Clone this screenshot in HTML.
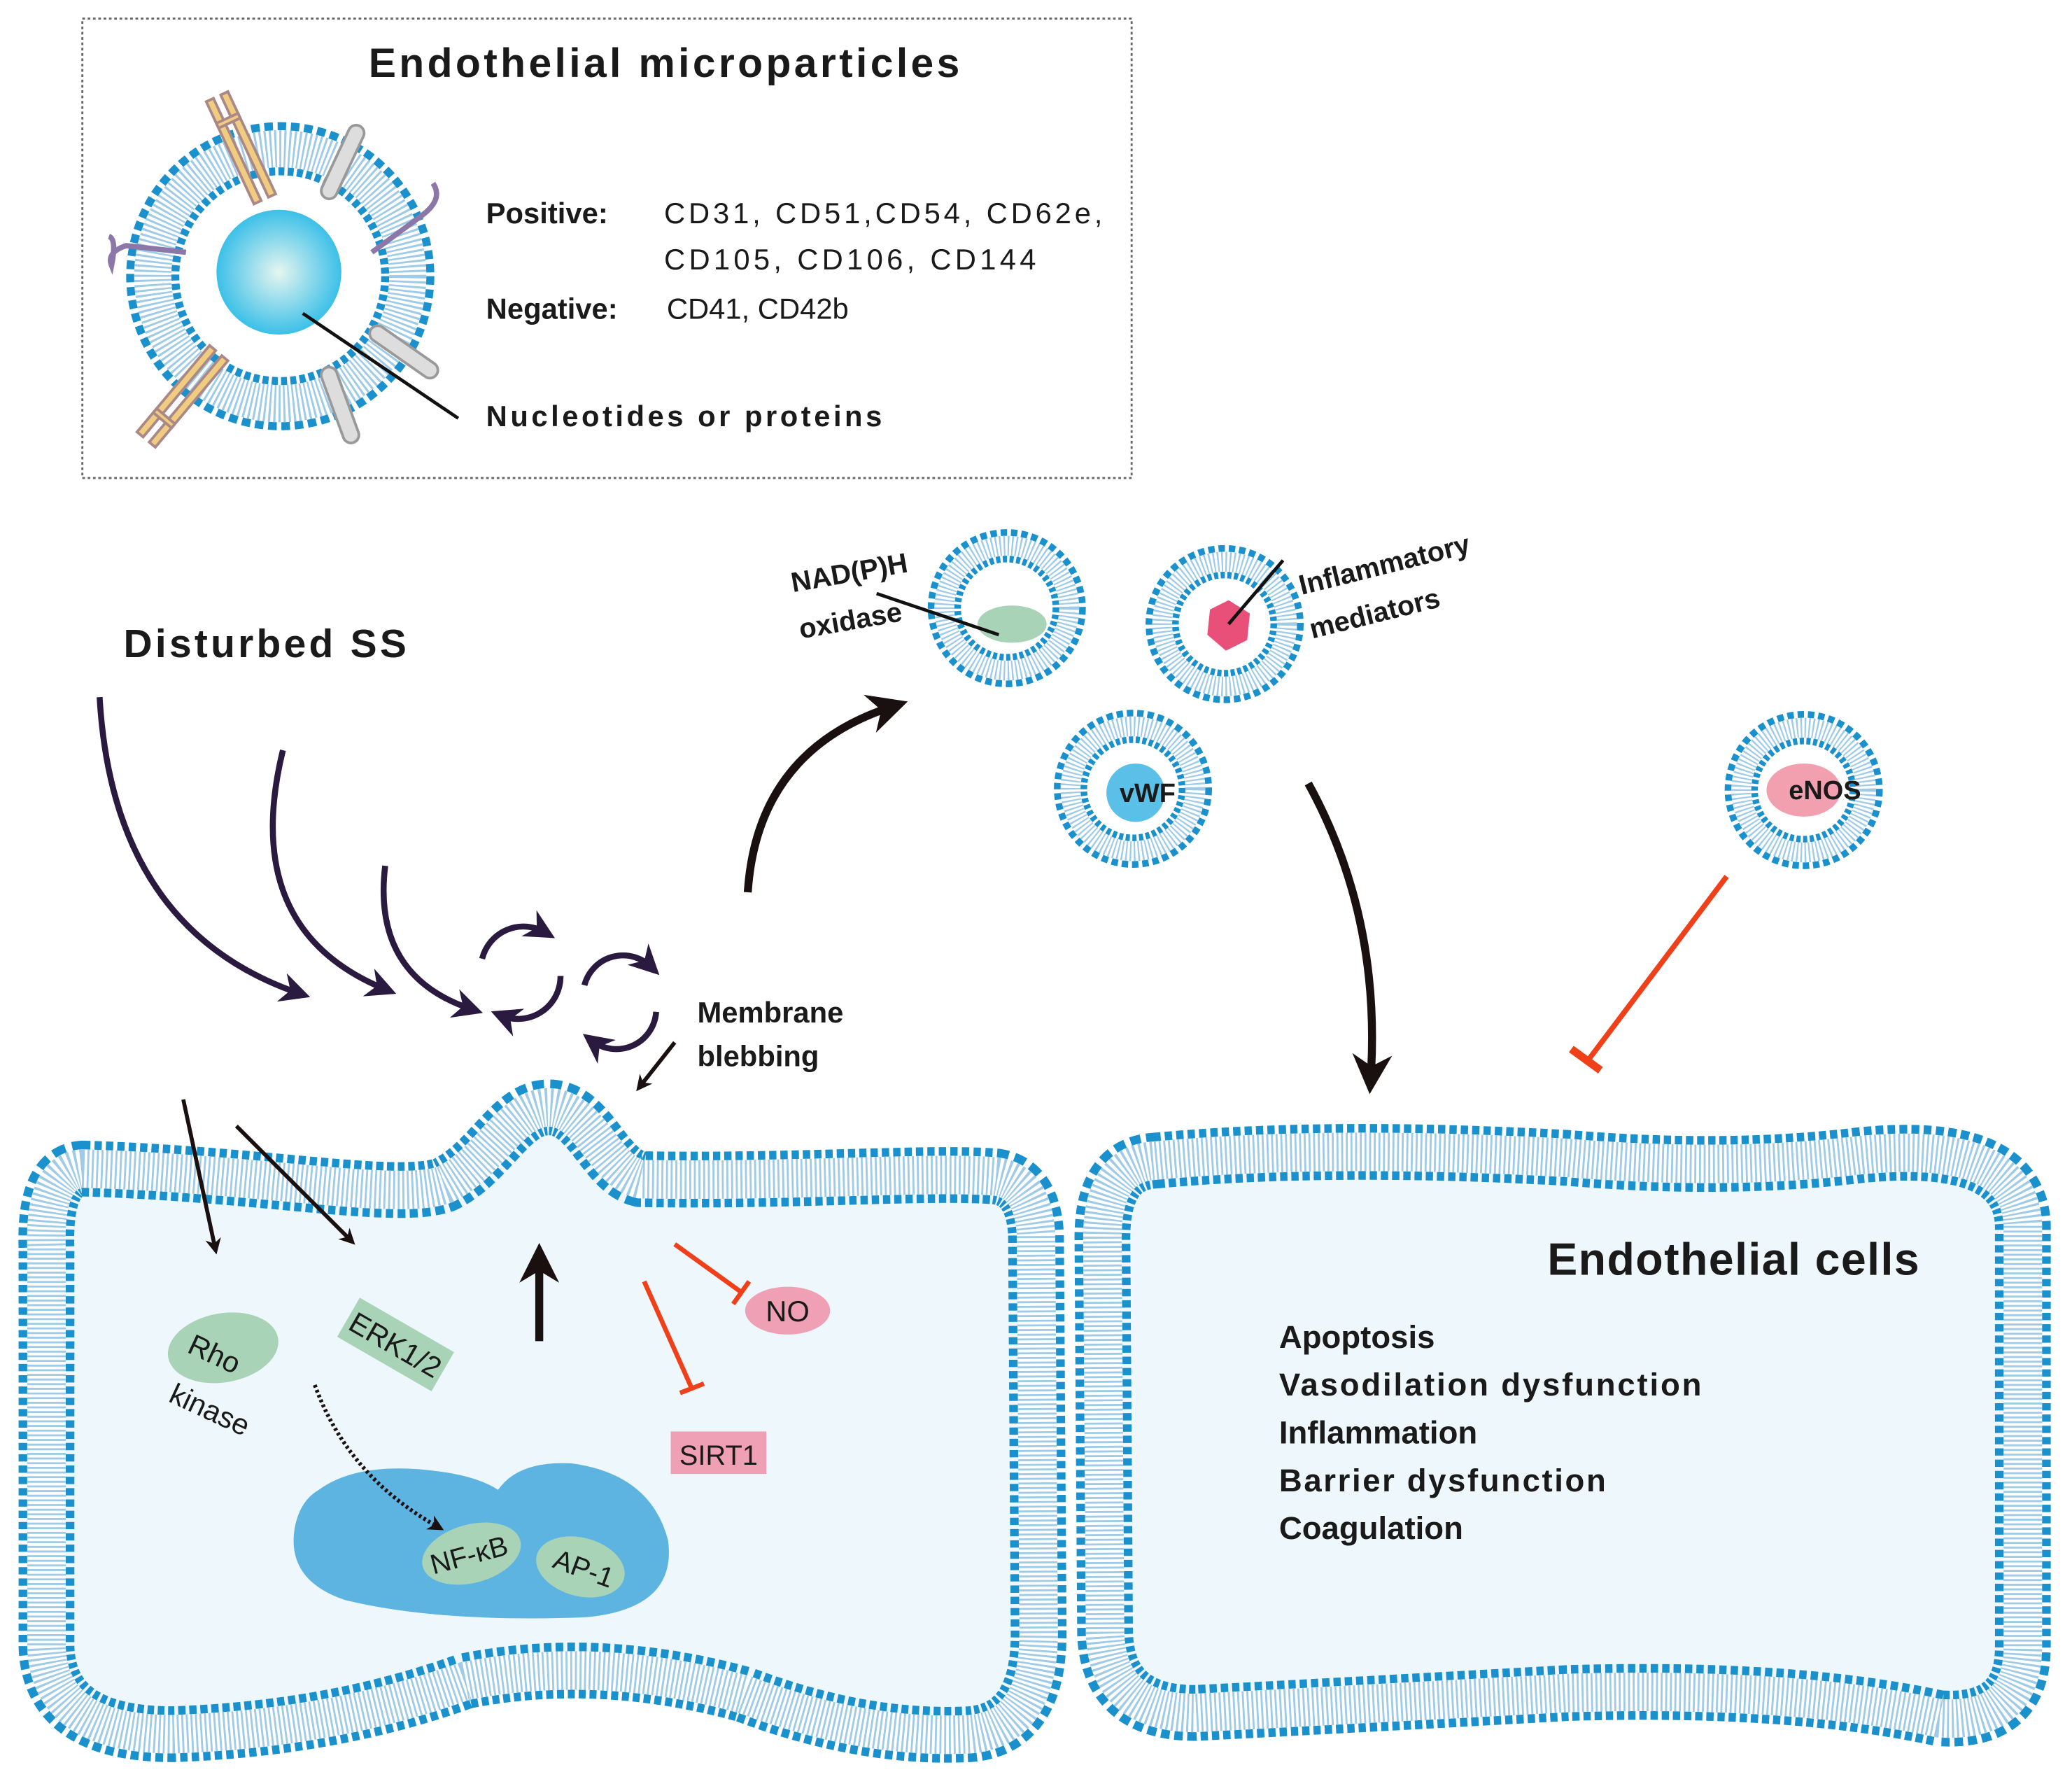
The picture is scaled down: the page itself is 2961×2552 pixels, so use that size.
<!DOCTYPE html>
<html><head><meta charset="utf-8"><style>html,body{margin:0;padding:0;background:#fff}svg{display:block}text{font-family:"Liberation Sans",Arial,sans-serif}</style></head>
<body>
<svg width="2961" height="2552" viewBox="0 0 1560 1345" preserveAspectRatio="none" xmlns="http://www.w3.org/2000/svg">
<defs>
<path id="c1" d="M 62,880 C 200,884 300,905 335,892 C 370,875 385,832 415,834 C 445,836 455,882 482,888 C 600,890 700,882 750,886 Q 778,890 780,930 L 782,1230 Q 782,1302 730,1306 Q 650,1310 560,1276 Q 450,1246 350,1266 Q 250,1302 130,1306 Q 37,1306 35,1240 L 35,940 Q 33,882 62,880 Z"/>
<path id="c2" d="M 870,874 Q 1000,862 1180,872 Q 1300,882 1400,870 Q 1520,858 1523,922 L 1523,1240 Q 1523,1298 1460,1294 Q 1350,1270 1180,1275 Q 1000,1285 900,1290 Q 834,1290 832,1230 L 830,932 Q 830,876 870,874 Z"/>
<radialGradient id="ng" cx="0.5" cy="0.5" r="0.5"><stop offset="0" stop-color="#e6f5f0"/><stop offset="1" stop-color="#3cc0e8"/></radialGradient>
<marker id="ah" viewBox="0 0 10 10" refX="6" refY="5" markerWidth="4" markerHeight="4" orient="auto"><path d="M0,0 L10,5 L0,10 L3,5 Z" fill="#1a1010"/></marker>
<marker id="ap" viewBox="0 0 10 10" refX="6" refY="5" markerWidth="5" markerHeight="5" orient="auto"><path d="M0,0 L10,5 L0,10 L3,5 Z" fill="#2a1a3f"/></marker>
<marker id="ab" viewBox="0 0 10 10" refX="6" refY="5" markerWidth="5" markerHeight="5" orient="auto"><path d="M0,0 L10,5 L0,10 L3,5 Z" fill="#1a1010"/></marker>
</defs>

<rect x="62" y="14" width="790" height="346" fill="none" stroke="#666" stroke-width="1.5" stroke-dasharray="2 2"/>
<text x="500" y="58" font-size="31" font-weight="bold" text-anchor="middle" fill="#1a1a1a" textLength="445">Endothelial microparticles</text>

<g fill="none">
<circle cx="211" cy="208" r="96" stroke="#1a90cc" stroke-width="40" stroke-dasharray="5.5 3"/>
<circle cx="211" cy="208" r="96" stroke="#fff" stroke-width="28"/>
<circle cx="211" cy="208" r="96" stroke="#9fcbe6" stroke-width="28" stroke-dasharray="1.5 2"/>
</g>
<circle cx="210" cy="205" r="47" fill="url(#ng)"/>
<g stroke-width="2" stroke="#a88">
<g transform="rotate(-25 183 110)"><rect x="172" y="68" width="6" height="85" fill="#f0cc80"/><rect x="184" y="68" width="6" height="85" fill="#f0cc80"/><rect x="172" y="86" width="18" height="4" fill="#f0cc80"/></g>
<g transform="rotate(40 140 300)"><rect x="128" y="258" width="6" height="85" fill="#f0cc80"/><rect x="140" y="258" width="6" height="85" fill="#f0cc80"/><rect x="128" y="320" width="18" height="4" fill="#f0cc80"/></g>
<rect x="252" y="92" width="12" height="60" rx="6" fill="#ddd" stroke="#999" transform="rotate(25 258 122)"/>
<rect x="298" y="235" width="12" height="60" rx="6" fill="#ddd" stroke="#999" transform="rotate(-55 304 265)"/>
<rect x="250" y="275" width="12" height="60" rx="6" fill="#ddd" stroke="#999" transform="rotate(-20 256 305)"/>
</g>
<path d="M 280,190 L 318,162 Q 334,150 326,138" fill="none" stroke="#8b78a8" stroke-width="4"/>
<path d="M 140,190 L 95,185 Q 80,190 84,200 Q 88,180 82,178" fill="none" stroke="#8b78a8" stroke-width="4"/>
<line x1="228" y1="236" x2="345" y2="315" stroke="#111" stroke-width="2.5"/>
<g font-size="22" fill="#1a1a1a">
<text x="366" y="168" font-weight="bold">Positive:</text>
<text x="500" y="168" textLength="330">CD31, CD51,CD54, CD62e,</text>
<text x="500" y="203" textLength="280">CD105, CD106, CD144</text>
<text x="366" y="240" font-weight="bold">Negative:</text>
<text x="502" y="240">CD41, CD42b</text>
<text x="366" y="321" font-weight="bold" textLength="298">Nucleotides or proteins</text>
</g>

<g fill="none">
<use href="#c1" fill="#eef7fc" stroke="#1a90cc" stroke-width="42" stroke-dasharray="5.5 3"/>
<use href="#c1" stroke="#fff" stroke-width="29"/>
<use href="#c1" stroke="#9fcbe6" stroke-width="29" stroke-dasharray="1.5 2"/>
<use href="#c2" fill="#eef7fc" stroke="#1a90cc" stroke-width="42" stroke-dasharray="5.5 3"/>
<use href="#c2" stroke="#fff" stroke-width="29"/>
<use href="#c2" stroke="#9fcbe6" stroke-width="29" stroke-dasharray="1.5 2"/>
</g>

<g fill="none">
<circle cx="758" cy="458" r="47" stroke="#1a90cc" stroke-width="25" stroke-dasharray="4 2.4"/>
<circle cx="758" cy="458" r="47" stroke="#fff" stroke-width="15"/>
<circle cx="758" cy="458" r="47" stroke="#9fcbe6" stroke-width="15" stroke-dasharray="1.2 1.8"/>
<circle cx="922" cy="470" r="47" stroke="#1a90cc" stroke-width="25" stroke-dasharray="4 2.4"/>
<circle cx="922" cy="470" r="47" stroke="#fff" stroke-width="15"/>
<circle cx="922" cy="470" r="47" stroke="#9fcbe6" stroke-width="15" stroke-dasharray="1.2 1.8"/>
<circle cx="853" cy="594" r="47" stroke="#1a90cc" stroke-width="25" stroke-dasharray="4 2.4"/>
<circle cx="853" cy="594" r="47" stroke="#fff" stroke-width="15"/>
<circle cx="853" cy="594" r="47" stroke="#9fcbe6" stroke-width="15" stroke-dasharray="1.2 1.8"/>
<circle cx="1358" cy="595" r="47" stroke="#1a90cc" stroke-width="25" stroke-dasharray="4 2.4"/>
<circle cx="1358" cy="595" r="47" stroke="#fff" stroke-width="15"/>
<circle cx="1358" cy="595" r="47" stroke="#9fcbe6" stroke-width="15" stroke-dasharray="1.2 1.8"/>
</g>
<ellipse cx="762" cy="470" rx="26" ry="14" fill="#a9d3b7"/>
<polygon points="925,452 941,462 939,482 923,490 909,478 911,459" fill="#e8507a"/>
<circle cx="855" cy="597" r="22" fill="#5bc0e8"/>
<text x="864" y="604" font-size="20" font-weight="bold" text-anchor="middle" fill="#1a1a1a">vWF</text>
<ellipse cx="1358" cy="595" rx="28" ry="20" fill="#f2a0b0"/>
<text x="1374" y="602" font-size="20" font-weight="bold" text-anchor="middle" fill="#1a1a1a">eNOS</text>
<g font-size="21" font-weight="bold" fill="#1a1a1a">
<text x="597" y="446" transform="rotate(-10 597 446)">NAD(P)H</text>
<text x="603" y="481" transform="rotate(-10 603 481)">oxidase</text>
<text x="980" y="448" transform="rotate(-14 980 448)">Inflammatory</text>
<text x="988" y="481" transform="rotate(-14 988 481)">mediators</text>
</g>
<line x1="660" y1="447" x2="752" y2="478" stroke="#111" stroke-width="2.5"/>
<line x1="966" y1="422" x2="925" y2="470" stroke="#111" stroke-width="2.5"/>

<text x="93" y="495" font-size="30" font-weight="bold" fill="#1a1a1a" textLength="213">Disturbed SS</text>

<g fill="none" stroke="#2a1a3f" stroke-width="4.5" marker-end="url(#ap)">
<path d="M 75,525 Q 85,700 225,748"/>
<path d="M 213,565 Q 180,700 290,745"/>
<path d="M 290,652 Q 280,735 355,760"/>
<path d="M 363,722 A 32,32 0 0 1 410,702"/>
<path d="M 422,735 A 32,32 0 0 1 378,765"/>
<path d="M 440,742 A 30,30 0 0 1 490,728"/>
<path d="M 494,762 A 30,30 0 0 1 446,784"/>
</g>

<path d="M 563,672 Q 570,565 672,532" fill="none" stroke="#1a1010" stroke-width="6" marker-end="url(#ab)"/>
<path d="M 985,590 Q 1040,690 1032,812" fill="none" stroke="#1a1010" stroke-width="6" marker-end="url(#ab)"/>
<line x1="1300" y1="660" x2="1196" y2="798" stroke="#f0401a" stroke-width="4"/>
<line x1="1183" y1="790" x2="1205" y2="806" stroke="#f0401a" stroke-width="6"/>

<g font-size="22" font-weight="bold" fill="#1a1a1a">
<text x="525" y="770">Membrane</text>
<text x="525" y="803">blebbing</text>
</g>
<line x1="508" y1="785" x2="482" y2="818" stroke="#1a1010" stroke-width="3" marker-end="url(#ah)"/>

<line x1="138" y1="828" x2="162" y2="940" stroke="#1a1010" stroke-width="3" marker-end="url(#ah)"/>
<line x1="178" y1="848" x2="264" y2="934" stroke="#1a1010" stroke-width="3" marker-end="url(#ah)"/>
<line x1="406" y1="1010" x2="406" y2="948" stroke="#1a1010" stroke-width="6" marker-end="url(#ab)"/>
<line x1="508" y1="937" x2="558" y2="973" stroke="#f0401a" stroke-width="3.5"/>
<line x1="552" y1="982" x2="564" y2="965" stroke="#f0401a" stroke-width="3.5"/>
<line x1="485" y1="965" x2="521" y2="1046" stroke="#f0401a" stroke-width="3.5"/>
<line x1="512" y1="1049" x2="530" y2="1042" stroke="#f0401a" stroke-width="3.5"/>
<ellipse cx="593" cy="987" rx="32" ry="18" fill="#f0a0b4"/>
<text x="593" y="995" font-size="22" text-anchor="middle" fill="#1a1a1a">NO</text>
<rect x="505" y="1078" width="72" height="32" fill="#f0a0b4"/>
<text x="541" y="1103" font-size="21" text-anchor="middle" fill="#1a1a1a">SIRT1</text>

<ellipse cx="168" cy="1015" rx="42" ry="26" fill="#a9d3b7" transform="rotate(-10 168 1015)"/>
<g font-size="22" fill="#1a1a1a">
<text x="140" y="1018" transform="rotate(25 140 1018)">Rho</text>
<text x="126" y="1055" transform="rotate(25 126 1055)">kinase</text>
</g>
<g transform="rotate(30 297 1012)"><rect x="257" y="995" width="82" height="34" fill="#a9d3b7"/><text x="298" y="1020" font-size="22" text-anchor="middle" fill="#1a1a1a">ERK1/2</text></g>

<path d="M 240,1122 Q 270,1100 330,1108 Q 360,1112 375,1122 Q 390,1100 430,1102 Q 490,1110 503,1160 Q 510,1212 440,1218 Q 330,1222 260,1205 Q 215,1190 222,1150 Q 226,1130 240,1122 Z" fill="#5eb4e0"/>
<path d="M 237,1043 Q 262,1112 330,1150" fill="none" stroke="#1a1010" stroke-width="3" stroke-dasharray="2 2" marker-end="url(#ah)"/>
<ellipse cx="355" cy="1170" rx="38" ry="22" fill="#a9d3b7" transform="rotate(-15 355 1170)"/>
<ellipse cx="437" cy="1180" rx="34" ry="22" fill="#a9d3b7" transform="rotate(15 437 1180)"/>
<text x="355" y="1178" font-size="21" text-anchor="middle" fill="#1a1a1a" transform="rotate(-15 355 1178)">NF-κB</text>
<text x="437" y="1188" font-size="21" text-anchor="middle" fill="#1a1a1a" transform="rotate(20 437 1188)">AP-1</text>

<text x="1165" y="960" font-size="34" font-weight="bold" fill="#1a1a1a" textLength="280">Endothelial cells</text>
<g font-size="24" font-weight="bold" fill="#1a1a1a">
<text x="963" y="1015">Apoptosis</text>
<text x="963" y="1051" textLength="318">Vasodilation dysfunction</text>
<text x="963" y="1087">Inflammation</text>
<text x="963" y="1123" textLength="246">Barrier dysfunction</text>
<text x="963" y="1159">Coagulation</text>
</g>
</svg>
</body></html>
